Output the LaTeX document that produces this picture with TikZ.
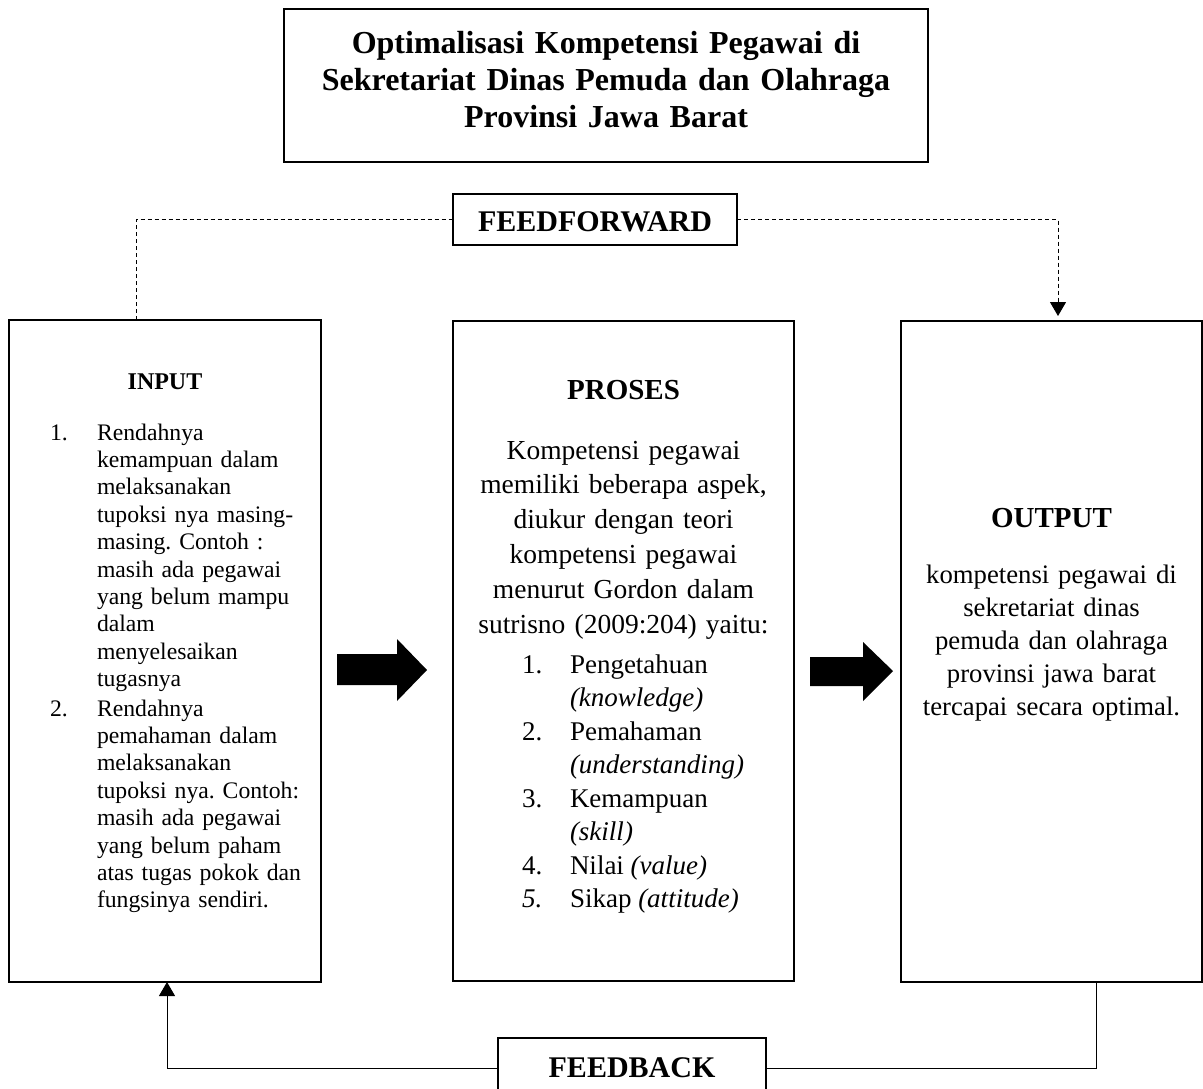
\documentclass[tikz,border=0pt]{standalone}
\usepackage{fontspec}
\setmainfont{Liberation Serif}
\usetikzlibrary{arrows.meta,calc}
\frenchspacing
\newcommand\fTitle{\fontsize{32}{37}\selectfont\bfseries}
\newcommand\fFF{\fontsize{30}{34}\selectfont\bfseries}
\newcommand\fHead{\fontsize{29}{33}\selectfont\bfseries}
\newcommand\fInHead{\fontsize{24}{27}\selectfont\bfseries}
\newcommand\fIn{\fontsize{23.7}{27.4}\selectfont}
\newcommand\fPro{\fontsize{27.5}{34.8}\selectfont}
\newcommand\fList{\fontsize{27}{33.5}\selectfont}
\newcommand\fOut{\fontsize{26.7}{33}\selectfont}
\begin{document}
\begin{tikzpicture}[x=1pt,y=-1pt,
 box/.style={draw, line width=2pt, inner sep=0pt, outer sep=0pt},
 txt/.style={inner sep=0pt, outer sep=0pt, execute at begin node=\frenchspacing},
 ffline/.style={line width=1pt, dash pattern=on 4pt off 3pt},
 fbline/.style={line width=1pt},
 tip/.style={-{Triangle[length=14pt,width=16pt]}},
 blockarrow/.style={fill=black}]
\useasboundingbox (0,0) rectangle (1203,1088);
\clip (0,0) rectangle (1203,1088);
\fill[white] (0,0) rectangle (1203,1088);

% boxes
\node[box, minimum width=644, minimum height=153] (title) at (606,85.5) {};
\node[box, minimum width=284, minimum height=51] (ff) at (595,219.5) {};
\node[box, minimum width=312, minimum height=662] (input) at (165,651) {};
\node[box, minimum width=341, minimum height=660] (proses) at (623.5,651) {};
\node[box, minimum width=301, minimum height=661] (output) at (1051.5,651.5) {};
\node[box, minimum width=268, minimum height=60] (fb) at (632,1068) {};

% title text
\node[txt, anchor=base, text width=640, align=center, font=\fTitle] (titletext) at (606,53)
 {Optimalisasi Kompetensi Pegawai di\\Sekretariat Dinas Pemuda dan Olahraga\\Provinsi Jawa Barat};
\node[txt, anchor=base, font=\fFF] (fftext) at (595,231) {FEEDFORWARD};
\node[txt, anchor=base, font=\fFF] (fbtext) at (632,1077) {FEEDBACK};

% input
\node[txt, anchor=base, font=\fInHead] (inhead) at (165,389) {INPUT};
\node[txt, anchor=base west, font=\fIn] (innum1) at (50,440) {1.};
\node[txt, anchor=base west, text width=218, align=left, font=\fIn] (initem1) at (97,440)
 {Rendahnya\\kemampuan dalam\\melaksanakan\\tupoksi nya masing-\\masing. Contoh :\\masih ada pegawai\\yang belum mampu\\dalam\\menyelesaikan\\tugasnya};
\node[txt, anchor=base west, font=\fIn] (innum2) at (50,716) {2.};
\node[txt, anchor=base west, text width=218, align=left, font=\fIn] (initem2) at (97,716)
 {Rendahnya\\pemahaman dalam\\melaksanakan\\tupoksi nya. Contoh:\\masih ada pegawai\\yang belum paham\\atas tugas pokok dan\\fungsinya sendiri.};

% proses
\node[txt, anchor=base, font=\fHead] (prohead) at (623.5,399) {PROSES};
\node[txt, anchor=base, text width=330, align=center, font=\fPro] (probody) at (623.5,459)
 {Kompetensi pegawai\\memiliki beberapa aspek,\\diukur dengan teori\\kompetensi pegawai\\menurut Gordon dalam\\sutrisno (2009:204) yaitu:};
\node[txt, anchor=base west, font=\fList] (pn1) at (522,673) {1.};
\node[txt, anchor=base west, text width=215, align=left, font=\fList] (pi1) at (570,673) {Pengetahuan\\\textit{(knowledge)}};
\node[txt, anchor=base west, font=\fList] (pn2) at (522,740) {2.};
\node[txt, anchor=base west, text width=215, align=left, font=\fList] (pi2) at (570,740) {Pemahaman\\\textit{(understanding)}};
\node[txt, anchor=base west, font=\fList] (pn3) at (522,807) {3.};
\node[txt, anchor=base west, text width=215, align=left, font=\fList] (pi3) at (570,807) {Kemampuan\\\textit{(skill)}};
\node[txt, anchor=base west, font=\fList] (pn4) at (522,874) {4.};
\node[txt, anchor=base west, font=\fList] (pi4) at (570,874) {Nilai \textit{(value)}};
\node[txt, anchor=base west, font=\fList] (pn5) at (522,907.5) {\textit{5.}};
\node[txt, anchor=base west, font=\fList] (pi5) at (570,907.5) {Sikap \textit{(attitude)}};

% output
\node[txt, anchor=base, font=\fHead] (outhead) at (1051.5,527) {OUTPUT};
\node[txt, anchor=base, text width=292, align=center, font=\fOut] (outbody) at (1051.5,583)
 {kompetensi pegawai di\\sekretariat dinas\\pemuda dan olahraga\\provinsi jawa barat\\tercapai secara optimal.};

% block arrows
\fill[blockarrow] (337,654) -- (397,654) -- (397,639) -- (427,670) -- (397,701) -- (397,685) -- (337,685) -- cycle;
\fill[blockarrow] (810,657) -- (863,657) -- (863,642) -- (893,671) -- (863,701) -- (863,686) -- (810,686) -- cycle;

% feedforward
\coordinate (ffstart) at ($(input.north west)+(127,0)$);
\coordinate (ffend) at ($(output.north west)+(157,0)$);
\draw[ffline] (ffstart) |- (ff.west);
\draw[ffline, tip, shorten >=5pt] (ff.east) -| (ffend);

% feedback
\coordinate (fbstart) at ($(output.south west)+(195,0)$);
\coordinate (fbend) at ($(input.south west)+(158,0)$);
\draw[fbline] (fbstart) |- (fb.east);
\draw[fbline, tip] (fb.west) -| (fbend);
\end{tikzpicture}
\end{document}
